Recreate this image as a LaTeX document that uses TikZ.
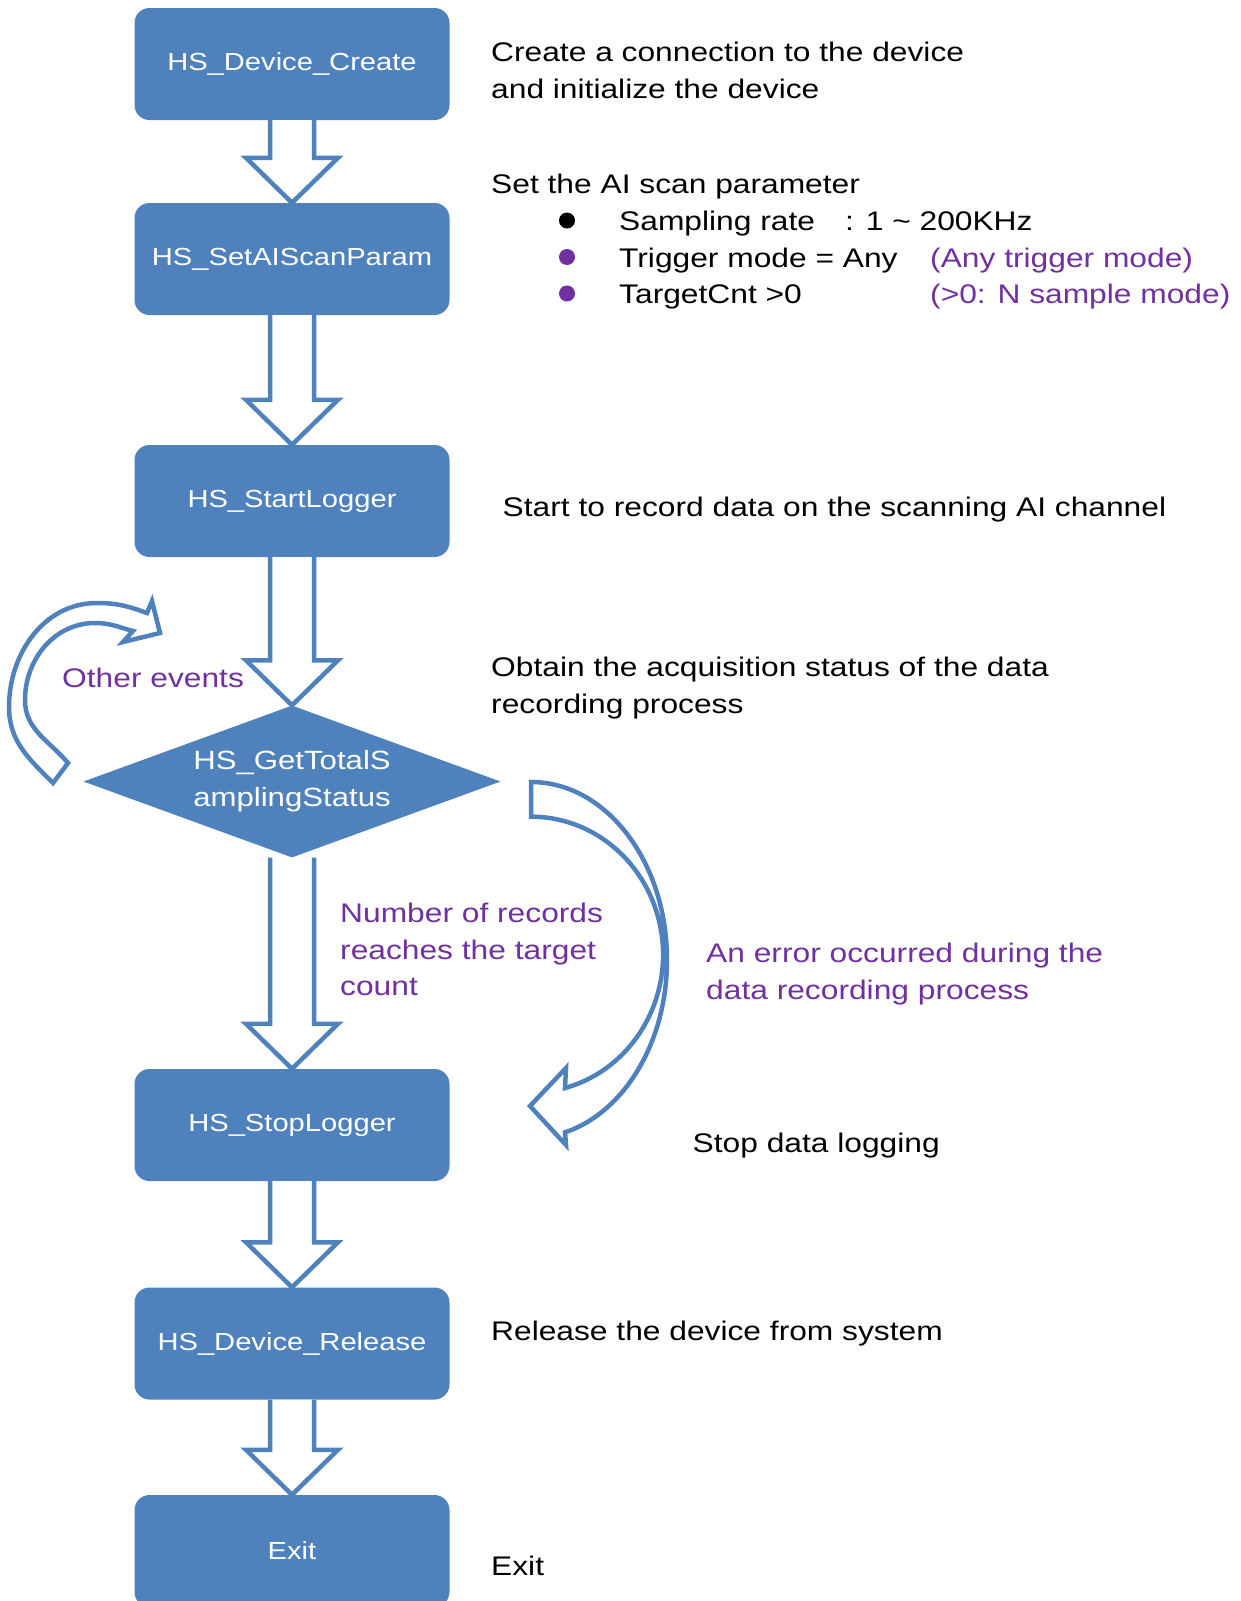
\documentclass[tikz,border=0pt]{standalone}
\usepackage{fontspec}
\setmainfont{Liberation Sans}[FakeStretch=1.18]
\usepackage{tikz}
\usetikzlibrary{calc,shapes.geometric}
\definecolor{boxblue}{RGB}{79,129,189}
\definecolor{purp}{RGB}{112,48,160}
\tikzset{
  blk/.style={rectangle,rounded corners=15pt,fill=boxblue,minimum width=315pt,minimum height=112pt,inner sep=0pt,text=white,font=\fontsize{24.7}{37}\selectfont},
  dec/.style={diamond,aspect=2.75,fill=boxblue,minimum width=417pt,minimum height=152pt,inner sep=0pt,text=white,align=center,font=\fontsize{26.4}{37}\selectfont},
  lbl/.style={anchor=base west,align=left,inner sep=0pt,font=\fontsize{26.9}{36.7}\selectfont},
  plbl/.style={lbl,text=purp},
  bul/.style={circle,fill=#1,inner sep=0pt,minimum size=16pt}, bul/.default=black,
  fl/.style={draw=boxblue,line width=4.5pt,fill=white,to path={($(\tikztostart.south)+(-22,0)$) -- ($(\tikztotarget.north)+(-22,45)$) -- ($(\tikztotarget.north)+(-46,45)$) -- (\tikztotarget.north) -- ($(\tikztotarget.north)+(46,45)$) -- ($(\tikztotarget.north)+(22,45)$) -- ($(\tikztostart.south)+(22,0)$)}},
  curl/.style={draw=boxblue,line width=4.5pt,fill=white},
}
\begin{document}
\begin{tikzpicture}[x=1pt,y=1pt]
\useasboundingbox (0,0) rectangle (1240,-1601);
% flow boxes
\node[blk] (create) at (292,-64){HS\_Device\_Create}; \node[blk] (setparam) at (292,-259){HS\_SetAIScanParam};
\node[blk] (start) at (292,-501){HS\_StartLogger}; \node[dec] (status) at (292,-781.5){HS\_GetTotalS\\amplingStatus};
\node[blk] (stop) at (292,-1125){HS\_StopLogger}; \node[blk] (release) at (292,-1343.5){HS\_Device\_Release};
\node[blk] (exit) at (292,-1551){Exit};
\draw[fl] (create) to (setparam); \draw[fl] (setparam) to (start); \draw[fl] (start) to (status);
\draw[fl] (status) to (stop); \draw[fl] (stop) to (release); \draw[fl] (release) to (exit);
% loop back and error path
\draw[curl] (53,-783) to[out=135,in=-90] (9,-707) to[out=90,in=180] (97,-603) to[out=0,in=160] (147,-613) -- (152,-601) -- (160,-633) -- (123,-642) -- (133,-631) to[out=165,in=0] (95,-623) to[out=180,in=90] (25,-700) to[out=-90,in=130] (68,-763) -- cycle;
\draw[curl] (531,-782) arc[start angle=90,end angle=-75.5,x radius=136,y radius=178] -- (566,-1145) -- (530,-1106) -- (566,-1068) -- (565,-1088) arc[start angle=-75.1,end angle=90,x radius=132,y radius=138] -- cycle;
% notes (base of a block is its last line)
\node[lbl] (tcreate) at (491,-98.2){Create a connection to the device\\and initialize the device};
\node[lbl] (tparam) at (491,-193.5){Set the AI scan parameter};
\node[bul] (d1) at (567,-220.5){}; \node[bul=purp] (d2) at (567,-257){}; \node[bul=purp] (d3) at (567,-293.5){};
\node[lbl] (tsamp) at (619,-230.5){Sampling rate}; \node[lbl] (trate) at (845,-230.5){: 1 \textasciitilde{} 200KHz};
\node[lbl] (ttrig) at (619,-267){Trigger mode = Any}; \node[plbl] (ptrig) at (930,-267){(Any trigger mode)};
\node[lbl] (tcnt) at (619,-303.5){TargetCnt >0}; \node[plbl] (pcnt) at (930,-303.5){(>0: N sample mode)};
\node[lbl] (tstart) at (502.5,-516){Start to record data on the scanning AI channel};
\node[lbl] (tstat) at (491,-713.2){Obtain the acquisition status of the data\\recording process};
\node[plbl] (pother) at (62,-687){Other events};
\node[plbl] (pdone) at (340,-995.9){Number of records\\reaches the target\\count};
\node[plbl] (perr) at (706,-999.2){An error occurred during the\\data recording process};
\node[lbl] (tstop) at (692.5,-1152.5){Stop data logging};
\node[lbl] (trel) at (491,-1340.5){Release the device from system};
\node[lbl] (texit) at (491,-1575.5){Exit};
\end{tikzpicture}
\end{document}
